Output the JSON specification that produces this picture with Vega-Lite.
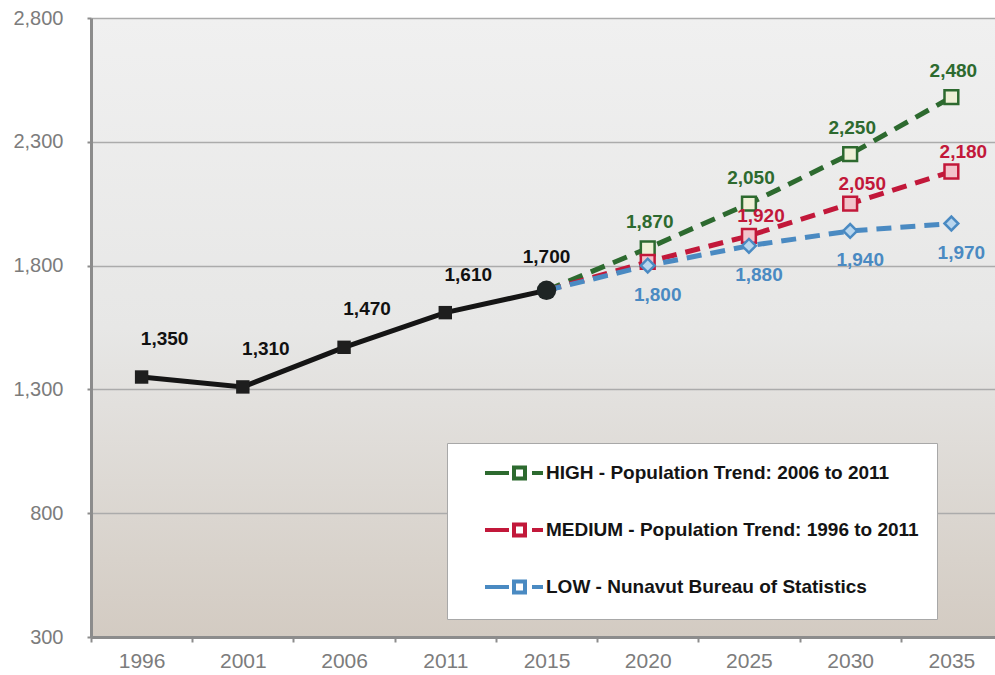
{
  "$schema": "https://vega.github.io/schema/vega-lite/v6.json",
  "width": 911,
  "height": 619,
  "autosize": {"type": "none"},
  "padding": {"left": 91, "top": 18, "right": 0, "bottom": 38},
  "background": "#ffffff",
  "view": {
    "stroke": null,
    "fill": {
      "gradient": "linear", "x1": 0, "y1": 0, "x2": 0, "y2": 1,
      "stops": [
        {"offset": 0, "color": "#f0f0f0"},
        {"offset": 0.5, "color": "#e7e7e6"},
        {"offset": 1, "color": "#d3cbc2"}
      ]
    }
  },
  "config": {
    "font": "Liberation Sans",
    "axis": {"labelFont": "Liberation Sans"}
  },
  "data": {
    "values": [
      {"year": "1996", "value": 1350, "series": "Actual", "scenario": "Actual"},
      {"year": "2001", "value": 1310, "series": "Actual", "scenario": "Actual"},
      {"year": "2006", "value": 1470, "series": "Actual", "scenario": "Actual"},
      {"year": "2011", "value": 1610, "series": "Actual", "scenario": "Actual"},
      {"year": "2015", "value": 1700, "series": "Actual", "scenario": "Actual"},
      {"year": "2015", "value": 1700, "series": "HIGH - Population Trend: 2006 to 2011", "scenario": "HIGH"},
      {"year": "2020", "value": 1870, "series": "HIGH - Population Trend: 2006 to 2011", "scenario": "HIGH"},
      {"year": "2025", "value": 2050, "series": "HIGH - Population Trend: 2006 to 2011", "scenario": "HIGH"},
      {"year": "2030", "value": 2250, "series": "HIGH - Population Trend: 2006 to 2011", "scenario": "HIGH"},
      {"year": "2035", "value": 2480, "series": "HIGH - Population Trend: 2006 to 2011", "scenario": "HIGH"},
      {"year": "2015", "value": 1700, "series": "MEDIUM - Population Trend: 1996 to 2011", "scenario": "MEDIUM"},
      {"year": "2020", "value": 1815, "series": "MEDIUM - Population Trend: 1996 to 2011", "scenario": "MEDIUM"},
      {"year": "2025", "value": 1920, "series": "MEDIUM - Population Trend: 1996 to 2011", "scenario": "MEDIUM"},
      {"year": "2030", "value": 2050, "series": "MEDIUM - Population Trend: 1996 to 2011", "scenario": "MEDIUM"},
      {"year": "2035", "value": 2180, "series": "MEDIUM - Population Trend: 1996 to 2011", "scenario": "MEDIUM"},
      {"year": "2015", "value": 1700, "series": "LOW - Nunavut Bureau of Statistics", "scenario": "LOW"},
      {"year": "2020", "value": 1800, "series": "LOW - Nunavut Bureau of Statistics", "scenario": "LOW"},
      {"year": "2025", "value": 1880, "series": "LOW - Nunavut Bureau of Statistics", "scenario": "LOW"},
      {"year": "2030", "value": 1940, "series": "LOW - Nunavut Bureau of Statistics", "scenario": "LOW"},
      {"year": "2035", "value": 1970, "series": "LOW - Nunavut Bureau of Statistics", "scenario": "LOW"}
    ]
  },
  "encoding": {
    "x": {
      "field": "year", "type": "ordinal",
      "scale": {"type": "band", "paddingInner": 0, "paddingOuter": 0,
        "domain": ["1996","2001","2006","2011","2015","2020","2025","2030","2035"]},
      "axis": {
        "title": null, "labelAngle": 0, "tickBand": "extent",
        "domainColor": "#8c8c8c", "domainWidth": 3,
        "tickColor": "#8c8c8c", "tickWidth": 2, "tickSize": 5,
        "labelFontSize": 21, "labelColor": "#7c7c7c", "labelPadding": 8
      }
    },
    "y": {
      "field": "value", "type": "quantitative",
      "scale": {"domain": [300, 2800], "nice": false, "zero": false},
      "axis": {
        "title": null, "values": [300, 800, 1300, 1800, 2300, 2800], "format": ",d",
        "domainColor": "#8c8c8c", "domainWidth": 3,
        "tickColor": "#8c8c8c", "tickWidth": 2, "tickSize": 4,
        "gridColor": "#ababab", "gridWidth": 1.5,
        "labelFontSize": 20, "labelColor": "#7c7c7c", "labelPadding": 24
      }
    }
  },
  "layer": [
    {
      "transform": [{"filter": "datum.series === 'Actual'"}],
      "mark": {"type": "line", "color": "#151515", "strokeWidth": 5},
      "encoding": {}
    },
    {
      "transform": [{"filter": "datum.series !== 'Actual'"}],
      "mark": {"type": "line", "strokeWidth": 5, "strokeDash": [15, 9]},
      "encoding": {
        "color": {
          "field": "series", "type": "nominal",
          "scale": {
            "domain": ["HIGH - Population Trend: 2006 to 2011", "MEDIUM - Population Trend: 1996 to 2011", "LOW - Nunavut Bureau of Statistics"],
            "range": ["#2d6a2f", "#c2183a", "#4a8ac2"]
          },
          "legend": {
            "title": null, "orient": "none", "legendX": 356, "legendY": 425,
            "fillColor": "#ffffff", "strokeColor": "#a8a8a8",
            "padding": 18, "rowPadding": 29, "symbolOffset": 56,
            "labelFont": "Liberation Sans", "labelFontWeight": "bold", "labelFontSize": 19,
            "labelColor": "#141414", "labelOffset": 1, "labelLimit": 600,
            "symbolType": "M-4.8,0H-2.4M-1.9,-0.55H-0.8V0.55H-1.9ZM-0.1,0H1",
            "symbolSize": 400, "symbolStrokeWidth": 4, "symbolDash": []
          }
        }
      }
    },
    {
      "transform": [{"filter": "datum.series === 'Actual' && datum.year !== '2015'"}],
      "mark": {"type": "point", "shape": "square", "filled": true, "color": "#1e1e1e", "size": 180, "opacity": 1},
      "encoding": {}
    },
    {
      "transform": [{"filter": "datum.series === 'Actual' && datum.year === '2015'"}],
      "mark": {"type": "point", "shape": "circle", "filled": true, "color": "#1e2424", "size": 380, "opacity": 1},
      "encoding": {}
    },
    {
      "transform": [{"filter": "datum.series !== 'Actual' && datum.year !== '2015'"}],
      "mark": {"type": "point", "filled": false, "strokeWidth": 2.5, "opacity": 1},
      "encoding": {
        "shape": {
          "field": "scenario", "type": "nominal", "legend": null,
          "scale": {"domain": ["HIGH", "MEDIUM", "LOW"], "range": ["square", "square", "diamond"]}
        },
        "stroke": {
          "field": "scenario", "type": "nominal", "legend": null,
          "scale": {"domain": ["HIGH", "MEDIUM", "LOW"], "range": ["#2d6a2f", "#c2183a", "#4a8ac2"]}
        },
        "fill": {
          "field": "scenario", "type": "nominal", "legend": null,
          "scale": {"domain": ["HIGH", "MEDIUM", "LOW"], "range": ["#eef0d6", "#f2c4cc", "#b9d6ee"]}
        },
        "size": {
          "field": "scenario", "type": "nominal", "legend": null,
          "scale": {"domain": ["HIGH", "MEDIUM", "LOW"], "range": [190, 190, 300]}
        }
      }
    },
    {
      "transform": [{"filter": "datum.series === 'Actual' && datum.year !== '2015'"}],
      "mark": {"type": "text", "fontWeight": "bold", "fontSize": 19, "color": "#111111", "dx": 23, "dy": -38},
      "encoding": {"text": {"field": "value", "type": "quantitative", "format": ",d"}}
    },
    {
      "transform": [{"filter": "datum.series === 'Actual' && datum.year === '2015'"}],
      "mark": {"type": "text", "fontWeight": "bold", "fontSize": 19, "color": "#111111", "dx": 0, "dy": -33},
      "encoding": {"text": {"field": "value", "type": "quantitative", "format": ",d"}}
    },
    {
      "transform": [{"filter": "datum.scenario === 'HIGH' && datum.year !== '2015'"}],
      "mark": {"type": "text", "fontWeight": "bold", "fontSize": 19, "color": "#2d6a2f", "dx": 2, "dy": -26},
      "encoding": {"text": {"field": "value", "type": "quantitative", "format": ",d"}}
    },
    {
      "transform": [{"filter": "datum.scenario === 'MEDIUM' && datum.year !== '2015' && datum.year !== '2020'"}],
      "mark": {"type": "text", "fontWeight": "bold", "fontSize": 19, "color": "#c2183a", "dx": 12, "dy": -20},
      "encoding": {"text": {"field": "value", "type": "quantitative", "format": ",d"}}
    },
    {
      "transform": [{"filter": "datum.scenario === 'LOW' && datum.year !== '2015'"}],
      "mark": {"type": "text", "fontWeight": "bold", "fontSize": 19, "color": "#4a8ac2", "dx": 10, "dy": 29},
      "encoding": {"text": {"field": "value", "type": "quantitative", "format": ",d"}}
    }
  ]
}
